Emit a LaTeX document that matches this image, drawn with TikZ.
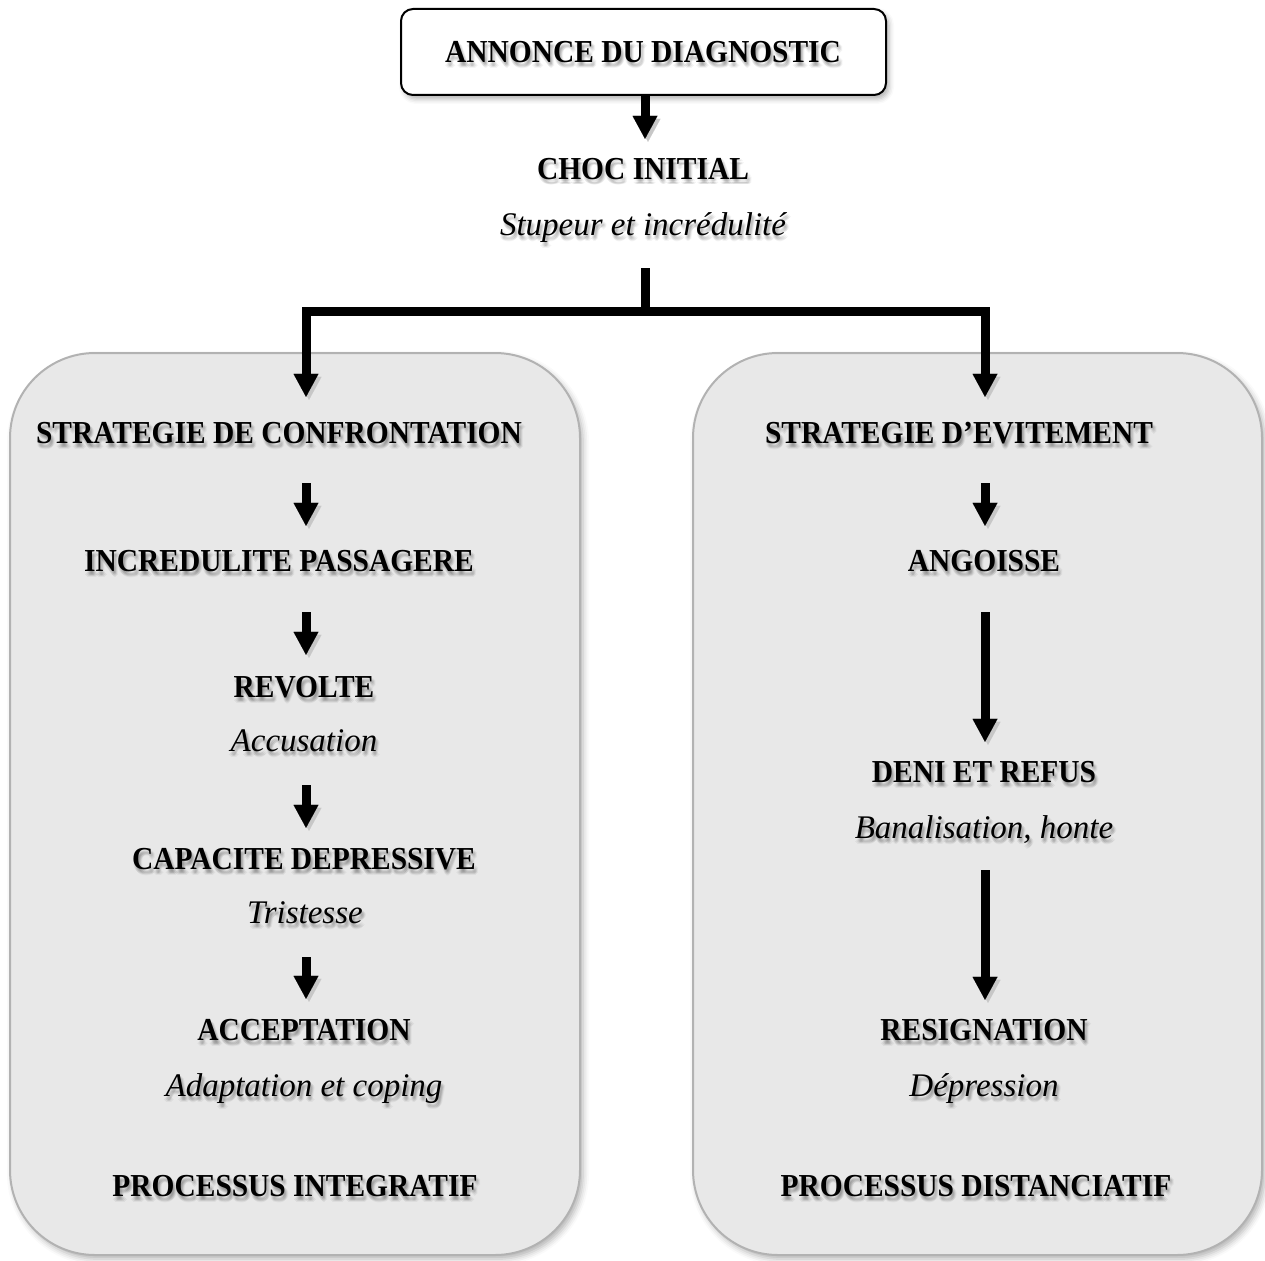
\documentclass[tikz,border=0pt]{standalone}
\usepackage{fontspec}
\setmainfont{Liberation Serif}
\newfontfamily\headfont{Liberation Serif}[FakeStretch=0.92]
\newfontfamily\bodyfont{Liberation Serif}
\usetikzlibrary{arrows.meta,shadows.blur}

\definecolor{panelfill}{RGB}{232,232,232}
\definecolor{panelline}{RGB}{178,178,178}

\tikzset{
  headtxt/.style={font=\headfont\bfseries\fontsize{32}{34}\selectfont,
    inner sep=0pt, text height=22pt, text depth=7pt},
  subtxt/.style={font=\bodyfont\itshape\fontsize{33}{35}\selectfont,
    inner sep=0pt, text height=23pt, text depth=9pt},
  panel/.style={draw=panelline, line width=2pt, fill=panelfill,
    rounded corners=85pt, inner sep=0pt,
    blur shadow={shadow xshift=3pt, shadow yshift=-4pt,
      shadow blur radius=6pt, shadow opacity=30}},
  titlebox/.style={draw=black, line width=2pt, fill=white,
    rounded corners=12pt, inner sep=0pt,
    blur shadow={shadow xshift=3pt, shadow yshift=-4pt,
      shadow blur radius=5pt, shadow opacity=30}},
  flow/.style={line width=9pt, line join=miter,
    -{Triangle[width=25pt,length=23pt,line width=0.01pt]},
    preaction={draw=black!22, transform canvas={shift={(3pt,-3pt)}}}},
  bar/.style={line width=9pt, line join=miter,
    preaction={draw=black!22, transform canvas={shift={(3pt,-3pt)}}}},
}

% text with a soft drop shadow: name, x, baseline y, style, text
\newcommand\shadowlabel[5]{%
  \foreach \sx/\sy in {2/-4,1/-3,3/-3,1/-5,3/-5,2/-2,2/-6,0/-4,4/-4}{%
    \node[#4, anchor=base, text opacity=0.045, xshift=\sx pt, yshift=\sy pt]
      at (#2,#3) {#5};}
  \node[#4, anchor=base] (#1) at (#2,#3) {#5};}

\begin{document}
\begin{tikzpicture}[x=1pt,y=-1pt]
\useasboundingbox (0,0) rectangle (1265,1260);

% the two strategy panels
\node[panel, minimum width=570pt, minimum height=902pt] (lpanel) at (295,804) {};
\node[panel, minimum width=569pt, minimum height=902pt] (rpanel) at (977.5,804) {};

% columns for the arrows and the fork point
\coordinate (lcol) at (306,0);
\coordinate (rcol) at (985,0);
\coordinate (fork) at (645,311);

% title box
\node[titlebox, minimum width=485pt, minimum height=86pt] (top) at (643.5,52) {};

% labels (positions are baselines)
\shadowlabel{annonce}{643}{63}{headtxt}{ANNONCE DU DIAGNOSTIC}
\shadowlabel{choc}{643}{179}{headtxt}{CHOC INITIAL}
\shadowlabel{stup}{643}{235}{subtxt}{Stupeur et incrédulité}

\shadowlabel{s1}{279}{443}{headtxt}{STRATEGIE DE CONFRONTATION}
\shadowlabel{s2}{279}{571}{headtxt}{INCREDULITE PASSAGERE}
\shadowlabel{s3}{304}{697}{headtxt}{REVOLTE}
\shadowlabel{s3i}{304}{751}{subtxt}{Accusation}
\shadowlabel{s4}{304}{869}{headtxt}{CAPACITE DEPRESSIVE}
\shadowlabel{s4i}{305}{923}{subtxt}{Tristesse}
\shadowlabel{s5}{304}{1040}{headtxt}{ACCEPTATION}
\shadowlabel{s5i}{304}{1096}{subtxt}{Adaptation et coping}
\shadowlabel{lproc}{295}{1196}{headtxt}{PROCESSUS INTEGRATIF}

\shadowlabel{r1}{959}{443}{headtxt}{STRATEGIE D’EVITEMENT}
\shadowlabel{r2}{984}{571}{headtxt}{ANGOISSE}
\shadowlabel{r3}{984}{782}{headtxt}{DENI ET REFUS}
\shadowlabel{r3i}{984}{838}{subtxt}{Banalisation, honte}
\shadowlabel{r4}{984}{1040}{headtxt}{RESIGNATION}
\shadowlabel{r4i}{984}{1096}{subtxt}{Dépression}
\shadowlabel{rproc}{976}{1196}{headtxt}{PROCESSUS DISTANCIATIF}

% connectors
\draw[flow, shorten >=18pt] (top.south -| fork) -- (choc.north -| fork);
\draw[bar, shorten <=24pt] (stup.south -| fork) -- (fork);
\draw[flow, shorten >=24pt] (fork) -| (s1.north -| lcol);
\draw[flow, shorten >=24pt] (fork) -| (r1.north -| rcol);

\draw[flow, shorten <=33pt, shorten >=23pt] (s1.south -| lcol) -- (s2.north -| lcol);
\draw[flow, shorten <=34pt, shorten >=20pt] (s2.south -| lcol) -- (s3.north -| lcol);
\draw[flow, shorten <=25pt, shorten >=19pt] (s3i.south -| lcol) -- (s4.north -| lcol);
\draw[flow, shorten <=25pt, shorten >=19pt] (s4i.south -| lcol) -- (s5.north -| lcol);

\draw[flow, shorten <=33pt, shorten >=23pt] (r1.south -| rcol) -- (r2.north -| rcol);
\draw[flow, shorten <=34pt, shorten >=18pt] (r2.south -| rcol) -- (r3.north -| rcol);
\draw[flow, shorten <=23pt, shorten >=18pt] (r3i.south -| rcol) -- (r4.north -| rcol);
\end{tikzpicture}
\end{document}
